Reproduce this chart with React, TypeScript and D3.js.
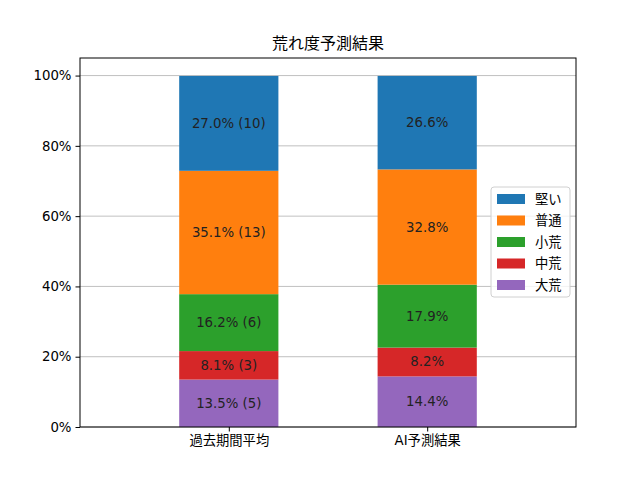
import * as React from "react";
import * as d3 from "d3";

const categories = ["過去期間平均", "AI予測結果"];
const seriesNames = ["大荒", "中荒", "小荒", "普通", "堅い"];
const seriesColors = ["#9467bd", "#d62728", "#2ca02c", "#ff7f0e", "#1f77b4"];
// percentages per series, one value per category
const pastValues = [13.5, 8.1, 16.2, 35.1, 27.0];
const pastCounts = [5, 3, 6, 13, 10];
const aiValues = [14.4, 8.2, 17.9, 32.8, 26.6];
const yTicks = [0, 20, 40, 60, 80, 100];

const width = 640;
const height = 480;
const margin = { top: 58, right: 64, bottom: 53, left: 80 };
const font = "'DejaVu Sans', 'Noto Sans CJK JP', sans-serif";

function drawChart(svgEl: SVGSVGElement) {
  const svg = d3.select(svgEl);
  svg.selectAll("*").remove();

  const x = d3.scaleLinear().domain([-0.75, 1.75]).range([margin.left, width - margin.right]);
  const y = d3.scaleLinear().domain([0, 105]).range([height - margin.bottom, margin.top]);

  // gridlines
  svg
    .append("g")
    .selectAll("line")
    .data(yTicks)
    .enter()
    .append("line")
    .attr("x1", margin.left)
    .attr("x2", width - margin.right)
    .attr("y1", (d) => y(d))
    .attr("y2", (d) => y(d))
    .style("stroke", "#b0b0b0")
    .style("stroke-width", 0.8);

  const rows = [
    { values: pastValues, labels: pastValues.map((v, i) => `${v.toFixed(1)}% (${pastCounts[i]})`) },
    { values: aiValues, labels: aiValues.map((v) => `${v.toFixed(1)}%`) },
  ];

  rows.forEach((row, ci) => {
    let base = 0;
    row.values.forEach((v, si) => {
      const y0 = base;
      const y1 = base + v;
      base = y1;
      svg
        .append("rect")
        .attr("x", x(ci - 0.25))
        .attr("width", x(ci + 0.25) - x(ci - 0.25))
        .attr("y", y(y1))
        .attr("height", y(y0) - y(y1))
        .style("fill", seriesColors[si]);
      svg
        .append("text")
        .attr("x", x(ci))
        .attr("y", y((y0 + y1) / 2))
        .attr("text-anchor", "middle")
        .attr("dominant-baseline", "central")
        .style("font-family", font)
        .style("font-size", "13.3px")
        .style("fill", "#222")
        .text(row.labels[si]);
    });
  });

  // axes frame
  svg
    .append("rect")
    .attr("x", margin.left)
    .attr("y", margin.top)
    .attr("width", width - margin.left - margin.right)
    .attr("height", height - margin.top - margin.bottom)
    .style("fill", "none")
    .style("stroke", "#000")
    .style("stroke-width", 1);

  const yAxis = svg
    .append("g")
    .attr("transform", `translate(${margin.left},0)`)
    .call(
      d3
        .axisLeft(y)
        .tickValues(yTicks)
        .tickSize(4.5)
        .tickPadding(4)
        .tickFormat((d) => `${d}%`)
    );
  yAxis.select(".domain").remove();
  yAxis.selectAll("text").style("font-family", font).style("font-size", "13.3px").style("fill", "#000");

  const xAxis = svg
    .append("g")
    .attr("transform", `translate(0,${height - margin.bottom})`)
    .call(
      d3
        .axisBottom(x)
        .tickValues([0, 1])
        .tickSize(4.5)
        .tickPadding(4)
        .tickFormat((d) => categories[d as number])
    );
  xAxis.select(".domain").remove();
  xAxis.selectAll("text").style("font-family", font).style("font-size", "13.3px").style("fill", "#000");

  // title
  svg
    .append("text")
    .attr("x", (margin.left + width - margin.right) / 2)
    .attr("y", 49)
    .attr("text-anchor", "middle")
    .style("font-family", font)
    .style("font-size", "16px")
    .style("fill", "#000")
    .text("荒れ度予測結果");

  // legend (top entry is last series)
  const legend = svg.append("g").attr("transform", "translate(491,187)");
  legend
    .append("rect")
    .attr("width", 79)
    .attr("height", 110)
    .attr("rx", 3)
    .style("fill", "rgba(255,255,255,0.8)")
    .style("stroke", "#d0d0d0");
  const order = d3.range(seriesNames.length).reverse();
  order.forEach((si, k) => {
    legend
      .append("rect")
      .attr("x", 6)
      .attr("y", 7 + k * 21.5)
      .attr("width", 28)
      .attr("height", 10)
      .style("fill", seriesColors[si]);
    legend
      .append("text")
      .attr("x", 44)
      .attr("y", 12 + k * 21.5)
      .attr("dominant-baseline", "central")
      .style("font-family", font)
      .style("font-size", "13.3px")
      .style("fill", "#000")
      .text(seriesNames[si]);
  });
}

const App: React.FunctionComponent = () => {
  const ref = React.useRef<SVGSVGElement>(null);
  React.useEffect(() => {
    if (ref.current) drawChart(ref.current);
  }, []);
  return (
    <svg
      ref={ref}
      width={width}
      height={height}
      style={{ position: "absolute", left: 0, top: 0, background: "#fff" }}
    />
  );
};

export default App;
